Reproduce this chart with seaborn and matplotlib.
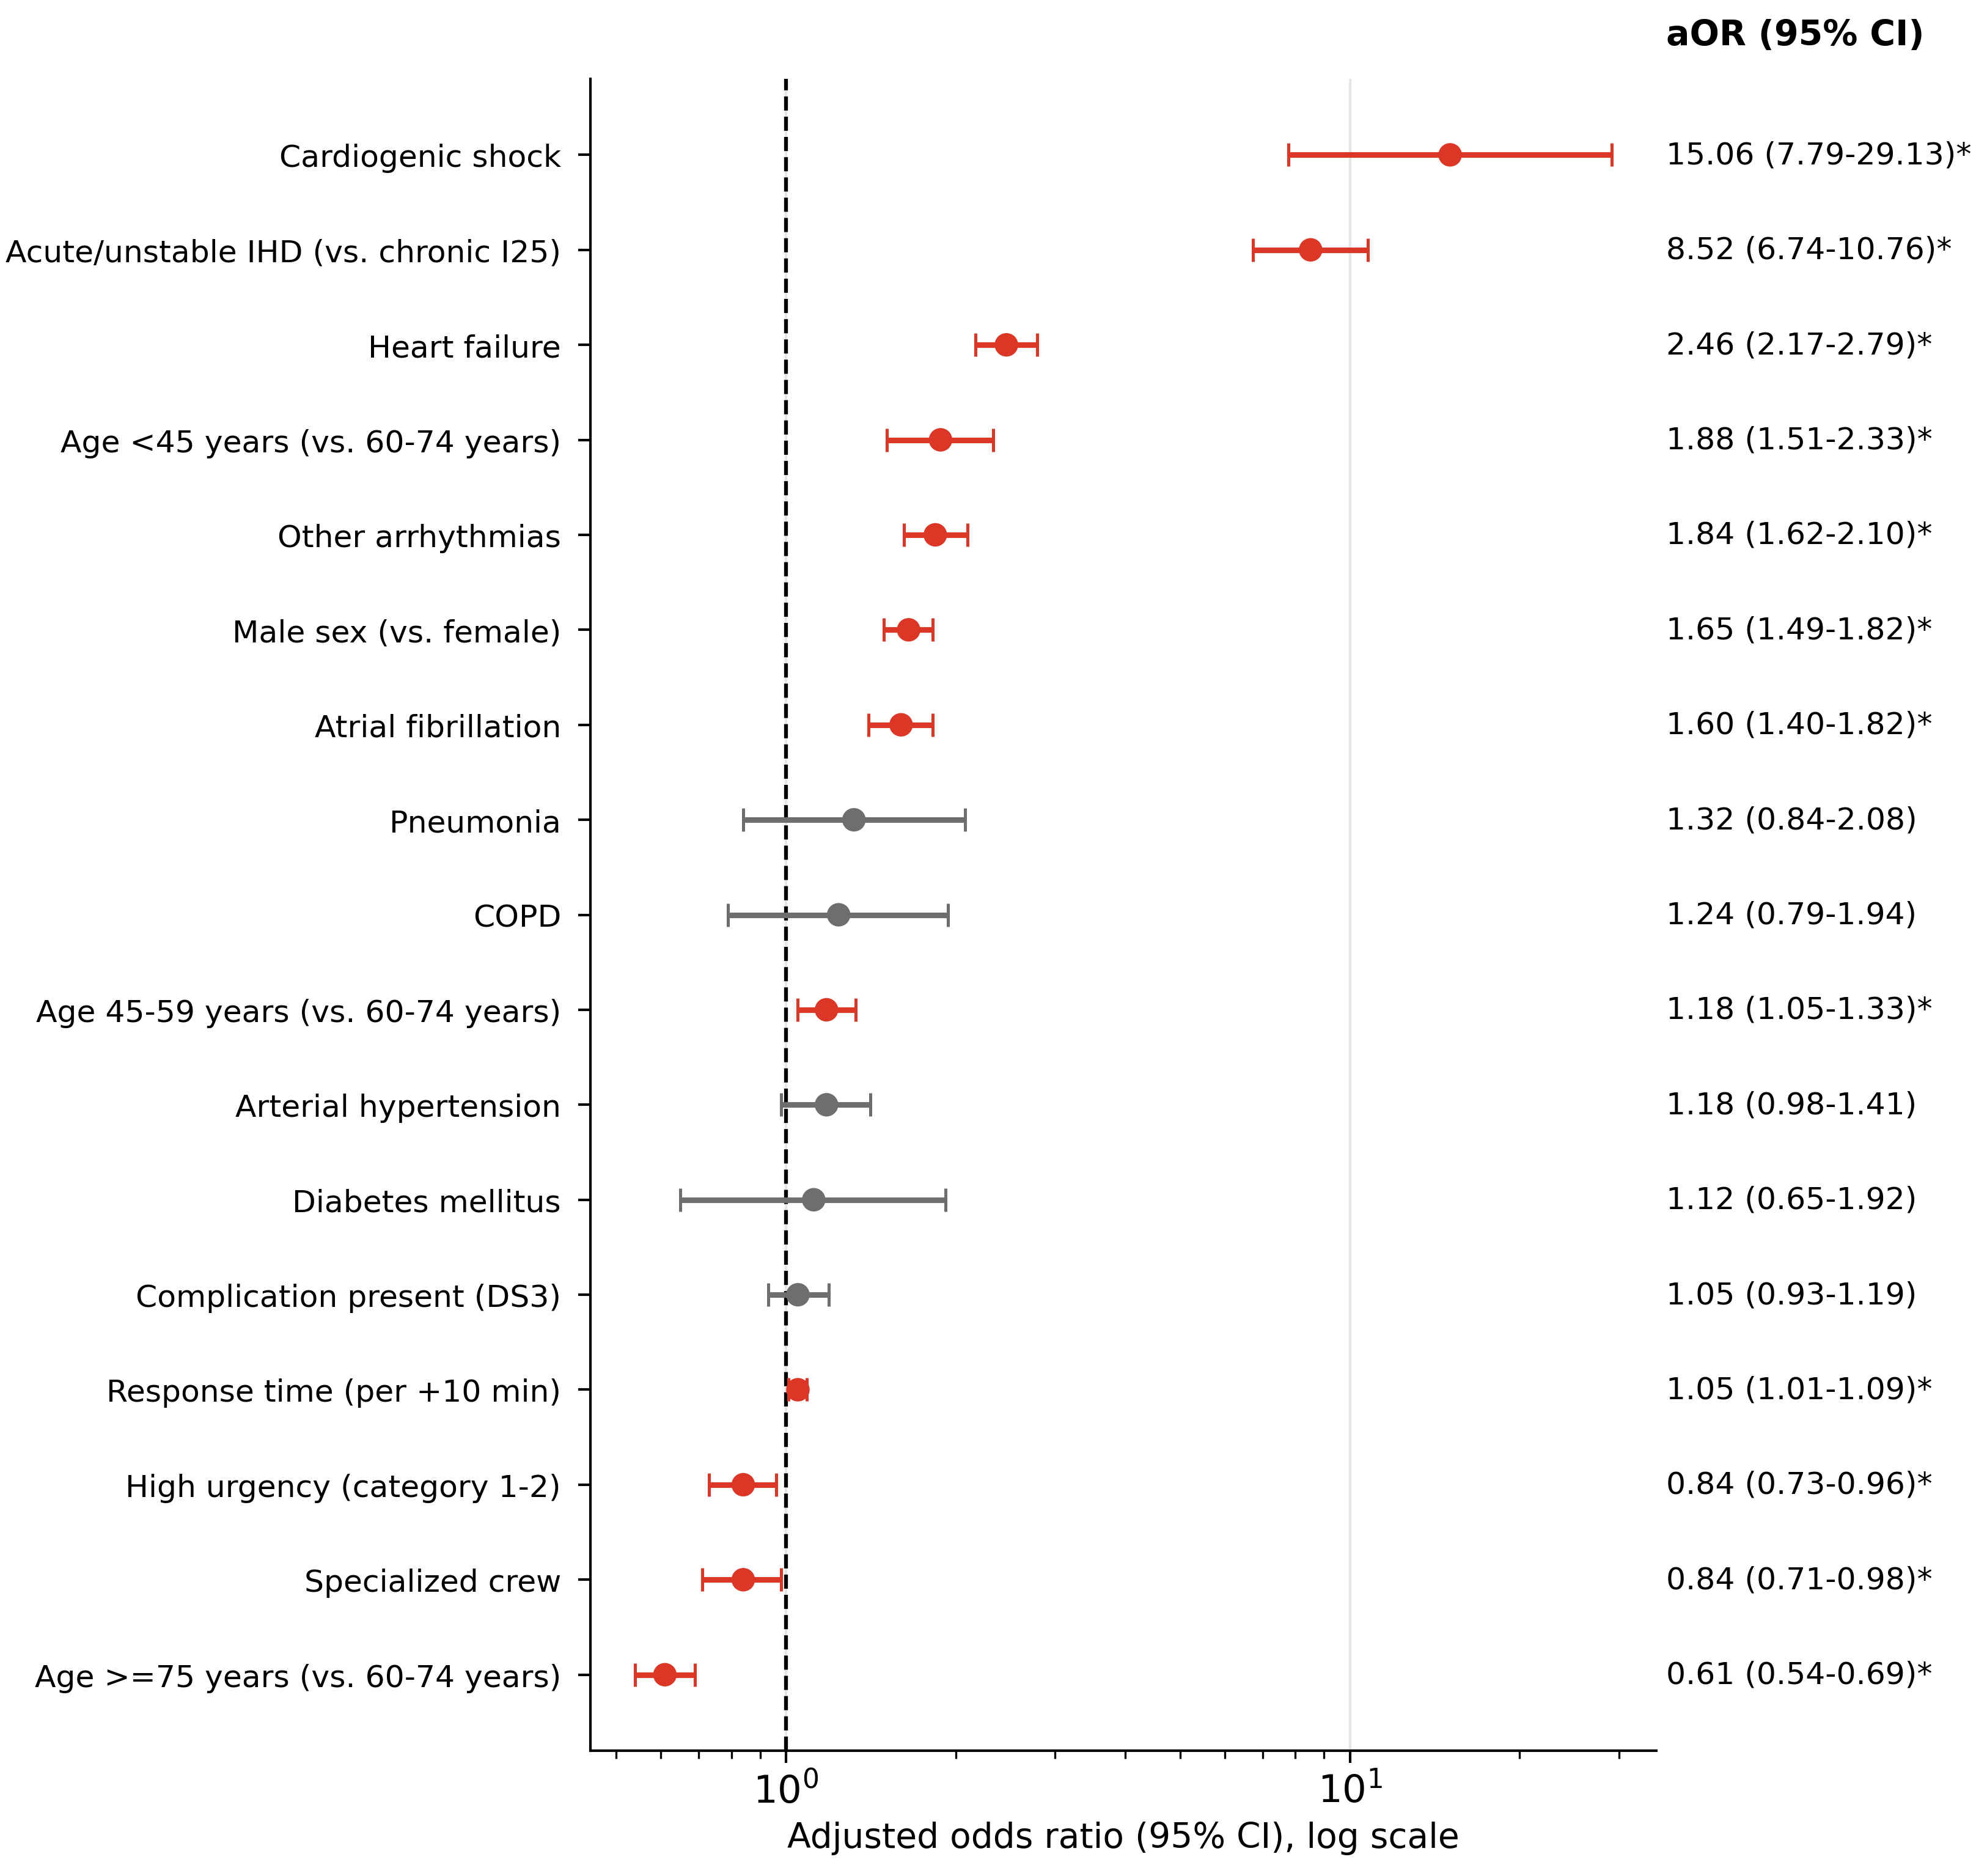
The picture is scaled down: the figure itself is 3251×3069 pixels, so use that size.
import numpy as np
import pandas as pd
import matplotlib
matplotlib.use("Agg")
import matplotlib.pyplot as plt
import seaborn as sns

# Werte aus dem Forest-Plot (oben -> unten)
labels = [
    "Cardiogenic shock",
    "Acute/unstable IHD (vs. chronic I25)",
    "Heart failure",
    "Age <45 years (vs. 60-74 years)",
    "Other arrhythmias",
    "Male sex (vs. female)",
    "Atrial fibrillation",
    "Pneumonia",
    "COPD",
    "Age 45-59 years (vs. 60-74 years)",
    "Arterial hypertension",
    "Diabetes mellitus",
    "Complication present (DS3)",
    "Response time (per +10 min)",
    "High urgency (category 1-2)",
    "Specialized crew",
    "Age >=75 years (vs. 60-74 years)",
]
aor = [15.06, 8.52, 2.46, 1.88, 1.84, 1.65, 1.60, 1.32, 1.24, 1.18, 1.18, 1.12, 1.05, 1.05, 0.84, 0.84, 0.61]
ci_lo = [7.79, 6.74, 2.17, 1.51, 1.62, 1.49, 1.40, 0.84, 0.79, 1.05, 0.98, 0.65, 0.93, 1.01, 0.73, 0.71, 0.54]
ci_hi = [29.13, 10.76, 2.79, 2.33, 2.10, 1.82, 1.82, 2.08, 1.94, 1.33, 1.41, 1.92, 1.19, 1.09, 0.96, 0.98, 0.69]

RED = "#dc3626"
GREY = "#6e6e6e"

df = pd.DataFrame({"label": labels, "aor": aor, "lo": ci_lo, "hi": ci_hi})
n = len(df)
df["pos"] = n - 1 - np.arange(n)
df["sig"] = (df["lo"] > 1) | (df["hi"] < 1)
df["color"] = np.where(df["sig"], RED, GREY)

sns.set_theme(style="ticks", context="paper")
plt.rcParams["font.family"] = ["DejaVu Sans"]
plt.rcParams.update({
    "text.color": "black",
    "axes.labelcolor": "black",
    "axes.edgecolor": "black",
    "xtick.color": "black",
    "ytick.color": "black",
})

fig = plt.figure(figsize=(3251 / 300, 3070 / 300), dpi=300)
ax = fig.add_axes([966 / 3251, 1 - 2865 / 3070, (2710 - 966) / 3251, (2865 - 130) / 3070])

# Konfidenzintervalle
for _, r in df.iterrows():
    ax.errorbar(r["aor"], r["pos"],
                xerr=[[r["aor"] - r["lo"]], [r["hi"] - r["aor"]]],
                fmt="none", ecolor=r["color"], elinewidth=2.2,
                capsize=4.5, capthick=1.2, zorder=3)

sns.scatterplot(data=df, x="aor", y="pos", hue="sig",
                palette={True: RED, False: GREY}, s=85, linewidth=0,
                legend=False, zorder=4, ax=ax)

ax.axvline(1, color="black", linestyle="--", linewidth=1.5, zorder=2)

ax.set_xscale("log")
ax.set_xlim(min(ci_lo) / 1.2, max(ci_hi) * 1.2)
ax.set_ylim(-0.8, n - 1 + 0.8)
ax.set_yticks(df["pos"])
ax.set_yticklabels(df["label"], fontsize=12.1)
ax.tick_params(axis="y", pad=6.7)
ax.tick_params(axis="x", which="major", labelsize=15)
ax.set_xlabel("Adjusted odds ratio (95% CI), log scale", fontsize=13.6)
ax.set_ylabel("")
ax.grid(axis="x", which="major", color="0.9", linewidth=1.0, zorder=0)
ax.set_axisbelow(True)
sns.despine(ax=ax)

# Textspalte rechts
for _, r in df.iterrows():
    txt = f"{r['aor']:.2f} ({r['lo']:.2f}-{r['hi']:.2f})" + ("*" if r["sig"] else "")
    ax.text(1.009, r["pos"], txt, transform=ax.get_yaxis_transform(),
            ha="left", va="center", fontsize=12.1)
ax.text(1.009, 1.026, "aOR (95% CI)", transform=ax.transAxes,
        ha="left", va="center", fontsize=13.7, fontweight="bold")

fig.savefig("out.png", dpi=300)
